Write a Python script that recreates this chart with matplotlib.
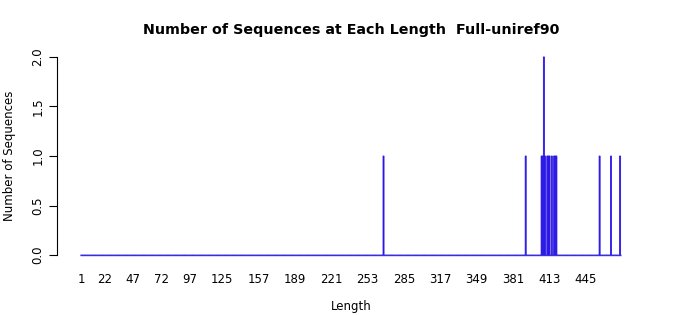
import matplotlib
matplotlib.use("Agg")
import matplotlib.pyplot as plt
import numpy as np

# Data
min_length = 1
max_length = 475
nonzero_lengths = [267, 392, 406, 407, 408, 409, 411, 412, 413, 415, 417, 418, 419, 457, 467, 475]
nonzero_counts  = [1,   1,   1,   1,   2,   1,   1,   1,   1,   1,   1,   1,   1,   1,   1,   1]
tick_labels = [1, 22, 47, 72, 97, 125, 157, 189, 221, 253, 285, 317, 349, 381, 413, 445]
y_ticks = [0.0, 0.5, 1.0, 1.5, 2.0]
title = "Number of Sequences at Each Length  Full-uniref90"

lengths = np.arange(min_length, max_length + 1)
counts = np.zeros(len(lengths))
for L, c in zip(nonzero_lengths, nonzero_counts):
    counts[L - min_length] = c

fig = plt.figure(figsize=(7.0, 3.15), dpi=100)
ax = fig.add_axes([57/700, 1 - 263/315, (645 - 57)/700, (263 - 49)/315])

bar_color = "#2a18e6"
# zero-height bars in the reference show as a blue baseline
ax.hlines(0, lengths[0] - 0.5, lengths[-1] + 0.5, color="#3a30d8", linewidth=1.0)
ax.bar(lengths, counts, width=0.9, color=bar_color, edgecolor=bar_color,
       linewidth=0.6, align="center", snap=False)

ax.set_xlim(-20.1, 496.9)
ax.set_ylim(-0.08, 2.08)

for s in ["top", "right", "bottom"]:
    ax.spines[s].set_visible(False)
ax.spines["left"].set_bounds(0, 2)
ax.spines["left"].set_linewidth(0.8)

ax.set_yticks(y_ticks)
ax.set_yticklabels([f"{v:.1f}" for v in y_ticks], rotation=90, va="center", fontsize=8.5)
ax.tick_params(axis="y", length=6, width=0.8, pad=3)

ax.set_xticks(tick_labels)
ax.set_xticklabels([str(t) for t in tick_labels], fontsize=8.5)
ax.tick_params(axis="x", length=0, pad=7)

ax.set_ylabel("Number of Sequences", fontsize=8.5, labelpad=11)
ax.set_xlabel("Length", fontsize=8.5)
ax.xaxis.set_label_coords(0.5, -0.175)
ax.set_title(title, fontsize=10.25, fontweight="bold", pad=11)

fig.savefig("out.png", dpi=100)
